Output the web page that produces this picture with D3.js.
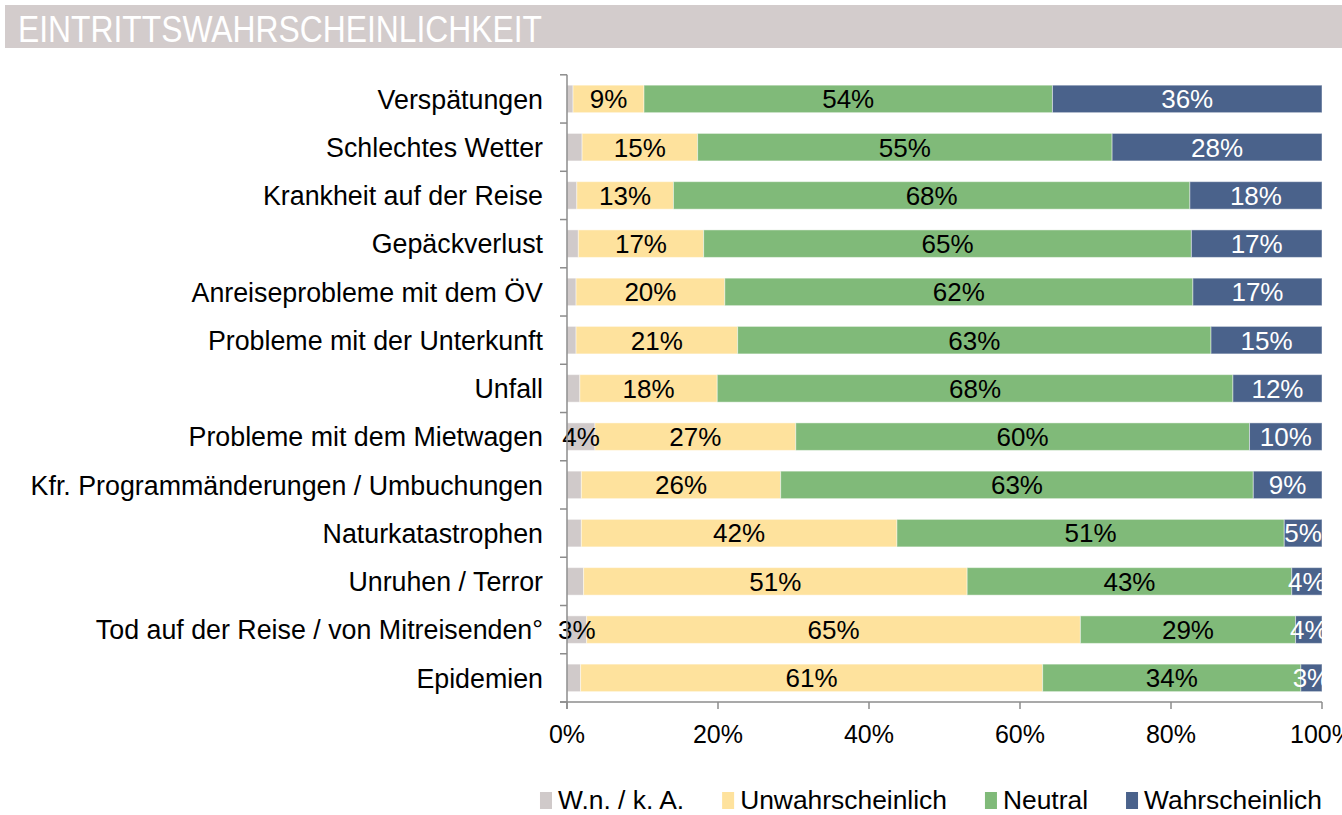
<!DOCTYPE html>
<html lang="de">
<head>
    <meta charset="UTF-8">
    <script src="https://d3js.org/d3.v7.min.js"></script>
    <title>Eintrittswahrscheinlichkeit</title>
    <style>
        body { margin: 0; background: #fff; }
        svg { font-family: "Liberation Sans", Arial, sans-serif; }
    </style>
</head>
<body>
    <div id="chart"></div>
    <script>
        // Kategorien (von oben nach unten)
        const categories = [
            "Verspätungen",
            "Schlechtes Wetter",
            "Krankheit auf der Reise",
            "Gepäckverlust",
            "Anreiseprobleme mit dem ÖV",
            "Probleme mit der Unterkunft",
            "Unfall",
            "Probleme mit dem Mietwagen",
            "Kfr. Programmänderungen / Umbuchungen",
            "Naturkatastrophen",
            "Unruhen / Terror",
            "Tod auf der Reise / von Mitreisenden°",
            "Epidemien"
        ];

        // Anteile in Prozent
        const wnka    = [0.8, 2.0, 1.3, 1.5, 1.2, 1.2, 1.7, 3.7, 1.9, 1.9, 2.2, 2.6, 1.8];
        const unwahr  = [9.4, 15.3, 12.8, 16.6, 19.7, 21.4, 18.2, 26.6, 26.4, 41.8, 50.8, 65.4, 61.2];
        const neutral = [54.1, 54.9, 68.4, 64.6, 62.0, 62.7, 68.3, 60.1, 62.6, 51.3, 43.0, 28.5, 34.2];
        const wahr    = [35.7, 27.8, 17.5, 17.3, 17.1, 14.7, 11.8, 9.6, 9.1, 5.0, 4.0, 3.5, 2.8];

        const seriesNames = ["W.n. / k. A.", "Unwahrscheinlich", "Neutral", "Wahrscheinlich"];
        const seriesKeys = ["wnka", "unwahr", "neutral", "wahr"];
        const colors = ["#d0caca", "#fee29d", "#80ba79", "#4a628b"];
        const labelColors = ["#000", "#000", "#000", "#fff"];
        const xTicks = [0, 20, 40, 60, 80, 100];

        const rows = categories.map((c, i) => ({
            cat: c, wnka: wnka[i], unwahr: unwahr[i], neutral: neutral[i], wahr: wahr[i]
        }));

        const W = 1342, H = 815;
        const plotLeft = 567, plotRight = 1322, plotTop = 74.8, plotBottom = 702;

        const svg = d3.select("#chart").append("svg")
            .attr("width", W)
            .attr("height", H);

        // Titelbalken
        svg.append("rect")
            .attr("x", 5).attr("y", 5)
            .attr("width", W - 5).attr("height", 43)
            .attr("fill", "#d3cccc");
        svg.append("text")
            .attr("x", 18).attr("y", 42)
            .attr("fill", "#fff")
            .style("font-size", "37px")
            .attr("textLength", 524)
            .attr("lengthAdjust", "spacingAndGlyphs")
            .text("EINTRITTSWAHRSCHEINLICHKEIT");

        const x = d3.scaleLinear().domain([0, 100]).range([plotLeft, plotRight]);
        const y = d3.scaleBand()
            .domain(categories)
            .range([plotTop, plotBottom])
            .paddingInner(0.43)
            .paddingOuter(0.215);

        const stacked = d3.stack().keys(seriesKeys)(rows);

        svg.append("clipPath").attr("id", "clipRight")
            .append("rect").attr("x", 0).attr("y", 0)
            .attr("width", plotRight + 1).attr("height", H);

        // Balken
        const layers = svg.append("g").selectAll("g")
            .data(stacked)
            .join("g")
            .attr("fill", (d, i) => colors[i]);

        layers.selectAll("rect")
            .data(d => d)
            .join("rect")
            .attr("x", d => x(d[0]))
            .attr("y", d => y(d.data.cat))
            .attr("width", d => x(d[1]) - x(d[0]))
            .attr("height", y.bandwidth())
            .attr("stroke", "rgba(255,255,255,0.45)")
            .attr("stroke-width", 1);

        // Beschriftungen
        const labels = svg.append("g").attr("clip-path", "url(#clipRight)");
        stacked.forEach((layer, li) => {
            labels.selectAll(null)
                .data(layer.filter(d => li > 0 || (d[1] - d[0]) >= 2.5))
                .join("text")
                .attr("x", d => (x(d[0]) + x(d[1])) / 2)
                .attr("y", d => y(d.data.cat) + y.bandwidth() / 2)
                .attr("dy", "0.36em")
                .attr("text-anchor", "middle")
                .attr("fill", labelColors[li])
                .style("font-size", "26px")
                .text(d => Math.round(d[1] - d[0]) + "%");
        });

        // Achsen
        const axisColor = "#8c8c8c";
        const axes = svg.append("g").attr("stroke", axisColor).attr("stroke-width", 1.5);
        axes.append("line")
            .attr("x1", plotLeft).attr("x2", plotLeft)
            .attr("y1", plotTop).attr("y2", plotBottom + 7);
        axes.append("line")
            .attr("x1", plotLeft - 7).attr("x2", plotRight)
            .attr("y1", plotBottom).attr("y2", plotBottom);
        d3.range(categories.length + 1).forEach(i => {
            const yy = plotTop + i * y.step();
            axes.append("line")
                .attr("x1", plotLeft - 7).attr("x2", plotLeft)
                .attr("y1", yy).attr("y2", yy);
        });
        axes.selectAll(null)
            .data(xTicks)
            .join("line")
            .attr("x1", d => x(d)).attr("x2", d => x(d))
            .attr("y1", plotBottom).attr("y2", plotBottom + 7);

        svg.append("g").selectAll("text")
            .data(xTicks)
            .join("text")
            .attr("x", d => x(d))
            .attr("y", 743)
            .attr("text-anchor", "middle")
            .style("font-size", "25px")
            .text(d => d + "%");

        svg.append("g").selectAll("text")
            .data(categories)
            .join("text")
            .attr("x", plotLeft - 24)
            .attr("y", d => y(d) + y.bandwidth() / 2)
            .attr("dy", "0.36em")
            .attr("text-anchor", "end")
            .style("font-size", "26.8px")
            .text(d => d);

        // Legende (rechtsbündig)
        const legend = svg.append("g");
        let cursor = plotRight;
        for (let i = seriesNames.length - 1; i >= 0; i--) {
            const t = legend.append("text")
                .attr("y", 809)
                .style("font-size", "26.4px")
                .text(seriesNames[i]);
            const w = t.node().getComputedTextLength();
            t.attr("x", cursor - w);
            legend.append("rect")
                .attr("x", cursor - w - 18)
                .attr("y", 792)
                .attr("width", 12)
                .attr("height", 17)
                .attr("fill", colors[i]);
            cursor = cursor - w - 18 - 38;
        }
    </script>
</body>
</html>
